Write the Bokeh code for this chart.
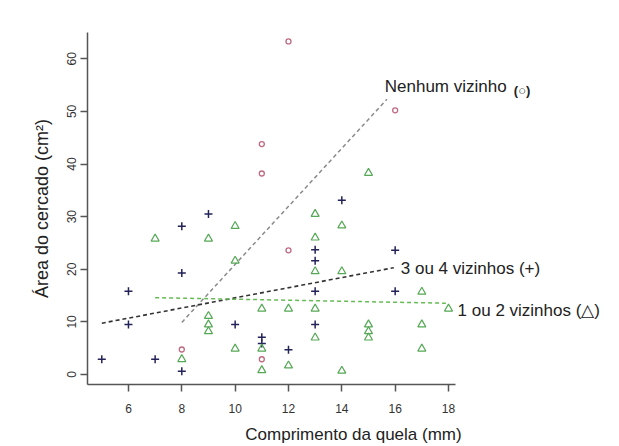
import math
from bokeh.plotting import figure
from bokeh.models import Range1d, FixedTicker, Label
from bokeh.embed import file_html
from bokeh.resources import INLINE

# ---- data ----
# Nenhum vizinho (circles)
none_x = [8, 11, 11, 11, 12, 12, 16]
none_y = [4.75, 43.8, 38.2, 2.9, 63.3, 23.6, 50.2]

# 3 ou 4 vizinhos (crosses)
three_x = [5, 6, 6, 7, 8, 8, 8, 9, 10, 11, 11, 12, 13, 13, 13, 13, 14, 16, 16]
three_y = [2.9, 15.8, 9.5, 2.9, 28.2, 19.3, 0.6, 30.5, 9.5, 7.1, 5.9, 4.7,
           23.7, 21.6, 15.8, 9.5, 33.1, 23.6, 15.8]

# 1 ou 2 vizinhos (triangles)
one_x = [7, 8, 9, 9, 9, 9, 10, 10, 10, 11, 11, 11, 12, 12, 13, 13, 13, 13, 13,
         14, 14, 14, 15, 15, 15, 15, 17, 17, 17, 18]
one_y = [25.8, 2.9, 25.8, 11.1, 9.5, 8.2, 28.2, 21.6, 4.9, 12.5, 4.9, 0.8,
         12.5, 1.7, 30.5, 26.0, 19.6, 12.5, 7.0, 28.3, 19.6, 0.7, 38.3, 9.5,
         8.2, 7.0, 15.7, 9.5, 4.9, 12.5]

# fitted trend lines (end points)
trend_none_x = [8.0, 15.69]
trend_none_y = [9.9, 52.3]
trend_three_x = [5.0, 15.95]
trend_three_y = [9.75, 20.3]
trend_one_x = [7.0, 17.9]
trend_one_y = [14.6, 13.55]

x_ticks = [6, 8, 10, 12, 14, 16, 18]
y_ticks = [0, 10, 20, 30, 40, 50, 60]

x_title = "Comprimento da quela (mm)"
y_title = "Área do cercado (cm²)"
label_none = "Nenhum vizinho"
label_none_sym = "(○)"
label_three = "3 ou 4 vizinhos (+)"
label_one = "1 ou 2 vizinhos (△)"

FONT = "Liberation Sans"

W, H = 619, 446
LEFT, TOP, BOTTOM = 87, 32, 62
X_START, X_AXIS_END = 4.464, 18.27
# frame runs to the right edge so that the line labels are not clipped
X_END = X_START + (W - LEFT) / 26.67

p = figure(width=W, height=H,
           x_range=Range1d(X_START, X_END), y_range=Range1d(-1.9, 65.0),
           output_backend="svg", toolbar_location=None,
           min_border_left=LEFT, min_border_right=0,
           min_border_top=TOP, min_border_bottom=BOTTOM)
p.outline_line_color = None
p.xgrid.visible = False
p.ygrid.visible = False
p.background_fill_color = "white"
p.border_fill_color = "white"

for ax in (p.xaxis[0], p.yaxis[0]):
    ax.axis_line_color = "#555555"
    ax.axis_line_width = 1.5
    ax.major_tick_line_color = "#555555"
    ax.major_tick_line_width = 1.5
    ax.major_tick_out = 7
    ax.major_tick_in = 0
    ax.minor_tick_line_color = None
    ax.major_label_text_font = FONT
    ax.major_label_text_font_size = "12px"
    ax.major_label_text_color = "#333333"
    ax.axis_label_text_font = FONT
    ax.axis_label_text_font_style = "normal"
    ax.axis_label_text_color = "#222222"

p.xaxis.axis_label_text_font_size = "17px"
p.yaxis.axis_label_text_font_size = "18px"
p.xaxis.bounds = (X_START, X_AXIS_END)
p.xaxis.ticker = FixedTicker(ticks=x_ticks)
p.yaxis.ticker = FixedTicker(ticks=y_ticks)
p.xaxis.major_label_standoff = 12
p.yaxis.major_label_standoff = 4
p.yaxis.major_label_orientation = "parallel"
p.xaxis.axis_label = x_title
p.yaxis.axis_label = y_title
p.xaxis.axis_label_standoff = 9
p.yaxis.axis_label_standoff = 13

# trend lines
p.line(trend_none_x, trend_none_y, line_color="#8a8a8a", line_width=1.5, line_dash="4 3")
p.line(trend_three_x, trend_three_y, line_color="#333333", line_width=1.6, line_dash="4 3")
p.line(trend_one_x, trend_one_y, line_color="#66bb55", line_width=1.5, line_dash="4 3")

# points
p.scatter(none_x, none_y, marker="circle", size=5, fill_color=None,
          line_color="#c06a80", line_width=1.3)
p.scatter(three_x, three_y, marker="cross", size=8, line_color="#23235a",
          line_width=1.5)
p.scatter(one_x, one_y, marker="triangle", size=8, fill_color=None,
          line_color="#55a855", line_width=1.2)

# line labels
def lab(x, y, text, size="17px", style="normal"):
    p.add_layout(Label(x=x, y=y, text=text, text_font=FONT, text_font_size=size,
                       text_color="#222222", text_align="left",
                       text_baseline="middle", text_font_style=style))

lab(15.61, 54.7, label_none)
lab(20.45, 54.0, label_none_sym, size="13px", style="bold")
lab(16.21, 20.2, label_three)
lab(18.34, 12.2, label_one)

open("out.html", "w").write(file_html(p, INLINE))
